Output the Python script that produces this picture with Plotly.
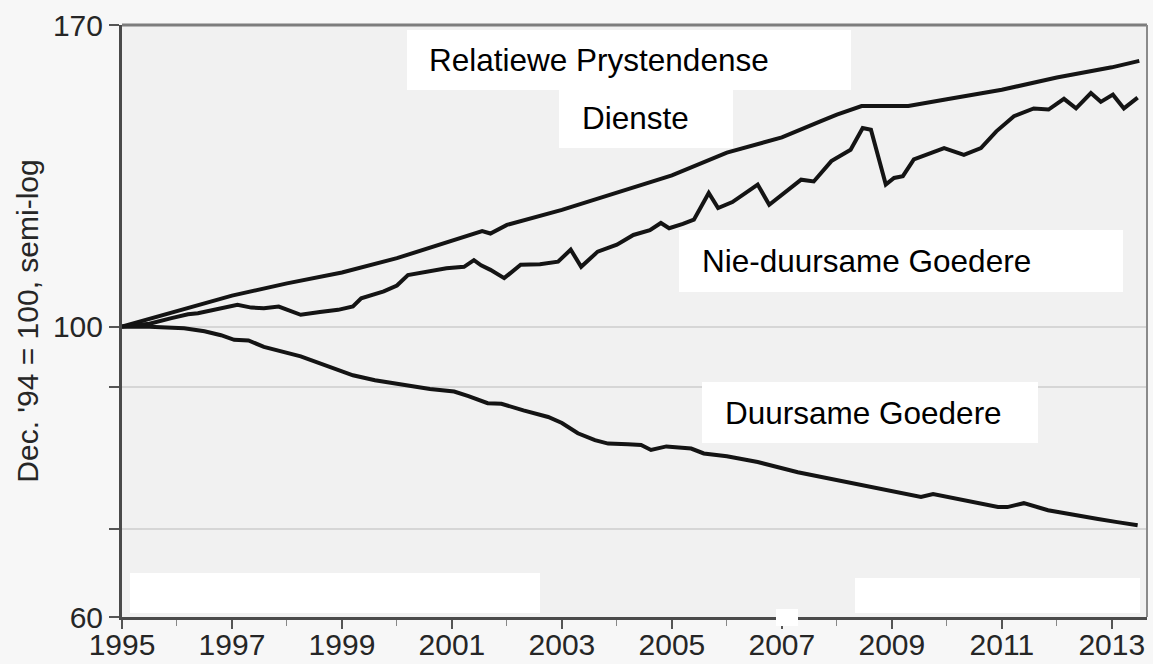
import plotly.graph_objects as go

# ---------------- data ----------------
services_x = [1995.0, 1996.0, 1997.0, 1998.0, 1999.0, 2000.0, 2001.0, 2001.55, 2001.7, 2002.0,
              2003.0, 2004.0, 2005.0, 2006.0, 2007.0, 2007.7, 2008.0, 2008.45, 2009.3, 2010.0,
              2011.0, 2012.0, 2013.0, 2013.5]
services_y = [100.0, 102.8, 105.6, 107.9, 110.0, 112.8, 116.3, 118.3, 117.8, 119.6,
              122.8, 126.5, 130.5, 135.8, 139.5, 143.5, 145.2, 147.4, 147.4, 149.2,
              151.7, 155.0, 157.8, 159.6]

nondur_x = [1995.0, 1995.5, 1995.9, 1996.2, 1996.38, 1996.7, 1997.1, 1997.35, 1997.58, 1997.85,
            1998.1, 1998.25, 1998.6, 1998.93, 1999.2, 1999.35, 1999.76, 2000.0, 2000.2, 2000.56,
            2000.9, 2001.22, 2001.4, 2001.53, 2001.7, 2001.95, 2002.25, 2002.6, 2002.93, 2003.16,
            2003.35, 2003.65, 2004.0, 2004.3, 2004.6, 2004.8, 2004.95, 2005.2, 2005.4, 2005.67,
            2005.84, 2006.1, 2006.31, 2006.56, 2006.77, 2007.0, 2007.16, 2007.35, 2007.58, 2007.9,
            2008.25, 2008.47, 2008.62, 2008.89, 2009.04, 2009.2, 2009.4, 2009.95, 2010.31, 2010.62,
            2010.9, 2011.22, 2011.58, 2011.85, 2012.13, 2012.35, 2012.62, 2012.8, 2013.02, 2013.22,
            2013.47]
nondur_y = [100.0, 100.5, 101.5, 102.2, 102.4, 103.0, 103.9, 103.4, 103.3, 103.6,
            102.6, 102.1, 102.6, 103.0, 103.6, 105.1, 106.4, 107.5, 109.5, 110.2,
            110.8, 111.1, 112.4, 111.4, 110.5, 108.9, 111.5, 111.6, 112.1, 114.5,
            111.1, 114.1, 115.5, 117.5, 118.5, 120.0, 118.9, 119.8, 120.7, 126.5,
            123.2, 124.5, 126.2, 128.4, 123.9, 126.0, 127.6, 129.5, 129.1, 133.8,
            136.5, 141.8, 141.4, 128.4, 129.9, 130.3, 134.2, 136.9, 135.3, 136.9,
            141.0, 144.8, 146.8, 146.5, 149.3, 146.8, 150.8, 148.5, 150.4, 146.8,
            149.6]

durable_x = [1995.0, 1995.5, 1996.13, 1996.5, 1996.8, 1997.04, 1997.3, 1997.58, 1998.25, 1998.7,
             1999.2, 1999.6, 2000.13, 2000.6, 2001.04, 2001.3, 2001.65, 2001.9, 2002.3, 2002.75,
             2003.0, 2003.29, 2003.6, 2003.84, 2004.2, 2004.44, 2004.62, 2004.9, 2005.35, 2005.58,
             2006.0, 2006.56, 2007.29, 2007.9, 2008.5, 2009.1, 2009.53, 2009.75, 2010.31, 2010.93,
             2011.1, 2011.4, 2011.84, 2012.3, 2012.75, 2013.1, 2013.47]
durable_y = [100.0, 100.0, 99.7, 99.2, 98.5, 97.7, 97.6, 96.5, 94.9, 93.5,
             91.8, 91.0, 90.2, 89.6, 89.2, 88.5, 87.4, 87.3, 86.3, 85.3,
             84.4, 82.9, 81.9, 81.4, 81.3, 81.2, 80.5, 81.0, 80.7, 80.0,
             79.6, 78.8, 77.4, 76.5, 75.6, 74.7, 74.1, 74.5, 73.7, 72.8,
             72.8, 73.3, 72.4, 71.9, 71.3, 70.9, 70.5]

x_tick_vals = [1995, 1997, 1999, 2001, 2003, 2005, 2007, 2009, 2011, 2013]
x_tick_text = ["1995", "1997", "1999", "2001", "2003", "2005", "2007", "2009", "2011", "2013"]
y_tick_vals = [60, 70, 90, 100, 170]
y_tick_text = ["60", "", "", "100", "170"]

labels = ["Relatiewe Prystendense", "Dienste", "Nie-duursame Goedere", "Duursame Goedere"]

# ---------------- figure ----------------
W, H = 1153, 664
L, R, T, B = 122, 6, 25, 47
PW, PH = W - L - R, H - T - B


def px(x):
    return (x - L) / PW


def py(y):
    return (H - B - y) / PH


LINE = dict(color="#141414", width=4)

fig = go.Figure()
for xs, ys in [(services_x, services_y), (nondur_x, nondur_y), (durable_x, durable_y)]:
    fig.add_trace(go.Scatter(x=xs, y=ys, mode="lines", line=LINE, showlegend=False,
                             hoverinfo="skip"))

shapes = []
# erased patches at the bottom and small gap in the axis
for (x0, y0, x1, y1, layer) in [(130, 573, 540, 613, "below"), (855, 578, 1140, 613, "below"),
                                (776, 609, 798, 626, "above")]:
    shapes.append(dict(type="rect", xref="paper", yref="paper", x0=px(x0), x1=px(x1),
                       y0=py(y1), y1=py(y0), fillcolor="white", line=dict(width=0),
                       layer=layer))
# top and right frame lines
shapes.append(dict(type="line", xref="paper", yref="paper", x0=0, x1=1, y0=1, y1=1,
                   line=dict(color="#7d7d7d", width=3), layer="above"))
shapes.append(dict(type="line", xref="paper", yref="paper", x0=1, x1=1, y0=0, y1=1,
                   line=dict(color="#8a8a8a", width=2), layer="above"))
# white label boxes
boxes = [(407, 30, 851, 90), (559, 90, 733, 148), (679, 230, 1123, 292), (702, 382, 1038, 443)]
for (x0, y0, x1, y1) in boxes:
    shapes.append(dict(type="rect", xref="paper", yref="paper", x0=px(x0), x1=px(x1),
                       y0=py(y1), y1=py(y0), fillcolor="white", line=dict(width=0),
                       layer="above"))

label_pos = [(427, 60), (580, 118), (700, 261), (723, 413)]
annotations = []
for text, (lx, ly) in zip(labels, label_pos):
    annotations.append(dict(text=text, xref="paper", yref="paper", x=px(lx), y=py(ly),
                            xanchor="left", yanchor="middle", showarrow=False,
                            font=dict(family="Liberation Sans, Arial", size=31.5, color="#000000")))

TICKFONT = dict(family="Liberation Sans, Arial", size=30, color="#262626")

fig.update_layout(
    width=W, height=H,
    margin=dict(l=L, r=R, t=T, b=B, pad=0, autoexpand=False),
    paper_bgcolor="#f7f7f7",
    plot_bgcolor="#f1f1f1",
    shapes=shapes,
    annotations=annotations,
    xaxis=dict(range=[1995, 2013.64], tickmode="array", tickvals=x_tick_vals,
               ticktext=x_tick_text, tickfont=TICKFONT, ticks="outside", ticklen=9,
               tickwidth=1.5, tickcolor="#555555", showgrid=False, zeroline=False,
               showline=True, linecolor="#4a4a4a", linewidth=3, ticklabelstandoff=-10,
               automargin=False,
               minor=dict(dtick=1, tick0=1995, ticks="outside", ticklen=6,
                          tickcolor="#888888", tickwidth=1, showgrid=False)),
    yaxis=dict(type="log", range=[1.778151, 2.230449], tickmode="array",
               tickvals=y_tick_vals, ticktext=y_tick_text, tickfont=TICKFONT,
               ticks="outside", ticklen=10, tickwidth=1.5, tickcolor="#555555",
               showgrid=True, gridcolor="#d6d6d6", gridwidth=2, zeroline=False,
               showline=True, linecolor="#4a4a4a", linewidth=3, automargin=False,
               title=dict(text="Dec. '94 = 100, semi-log", standoff=6,
                          font=dict(family="Liberation Sans, Arial", size=30,
                                    color="#262626"))),
)

fig.write_html("out.html", config={"displayModeBar": False},
               post_script="document.body.style.margin='0';document.body.style.overflow='hidden';")
